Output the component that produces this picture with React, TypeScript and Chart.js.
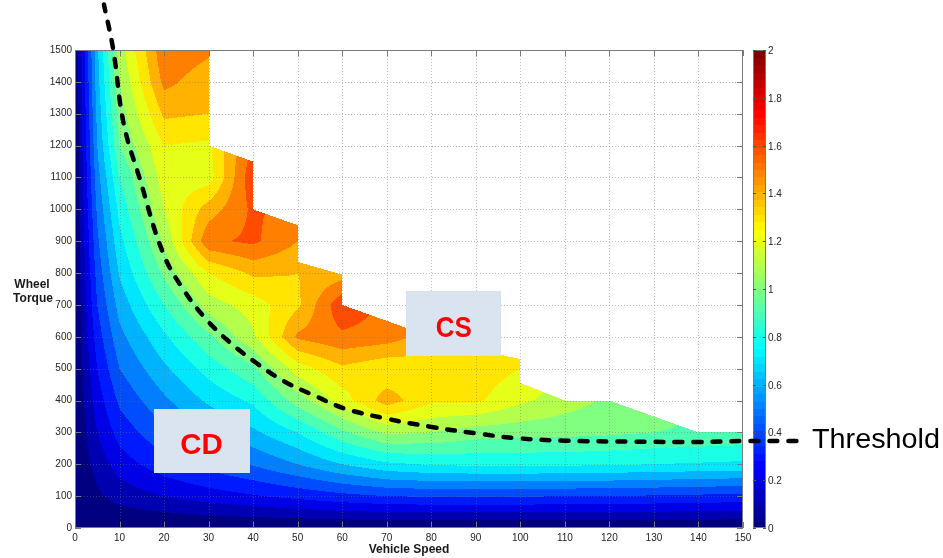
import React, { useEffect, useRef } from "react";
import { Chart, registerables } from "chart.js";

Chart.register(...registerables);

const FONT = '"Liberation Sans", Arial, Helvetica, sans-serif';

// ---- axes ----
const speedMin = 0;
const speedMax = 150;
const speedStep = 10;
const torqueMin = 0;
const torqueMax = 1500;
const torqueStep = 100;

// ---- colour scale ----
const colorMin = 0;
const colorMax = 2;
const levelStep = 0.1;
const colorTicks = [0, 0.2, 0.4, 0.6, 0.8, 1, 1.2, 1.4, 1.6, 1.8, 2];
const colorTickLabels = ["0", "0.2", "0.4", "0.6", "0.8", "1", "1.2", "1.4", "1.6", "1.8", "2"];

// ---- grid of the map: vehicle speed (columns) x wheel torque (rows) ----
const speeds = [0, 5, 10, 20, 30, 40, 50, 60, 70, 80, 90, 100, 110, 120, 130, 140, 150];
const torques = [0, 100, 200, 300, 400, 500, 600, 700, 800, 900, 1000, 1100, 1200, 1300, 1400, 1500];

const zT0 = [0, 0, 0, 0, 0, 0, 0, 0, 0, 0, 0, 0, 0, 0, 0, 0, 0];
const zT100 = [0, 0.08, 0.14, 0.2, 0.25, 0.29, 0.33, 0.37, 0.4, 0.41, 0.41, 0.41, 0.4, 0.4, 0.39, 0.38, 0.37];
const zT200 = [0, 0.14, 0.25, 0.36, 0.44, 0.51, 0.6, 0.7, 0.78, 0.81, 0.82, 0.82, 0.82, 0.81, 0.8, 0.79, 0.78];
const zT300 = [0, 0.2, 0.34, 0.48, 0.58, 0.68, 0.8, 0.98, 1.12, 1.1, 1.05, 1.04, 1.03, 1.02, 1.0, 0.99, 0.98];
const zT400 = [0, 0.25, 0.42, 0.58, 0.72, 0.82, 1.05, 1.25, 1.45, 1.32, 1.32, 1.22, 1.15, 1.08, 1.04, 1.0, 0.98];
const zT500 = [0, 0.3, 0.5, 0.68, 0.84, 0.98, 1.25, 1.38, 1.32, 1.35, 1.36, 1.3, 1.2, 1.1, 1.05, 1.0, 1.0];
const zT600 = [0, 0.35, 0.57, 0.78, 0.98, 1.18, 1.52, 1.58, 1.55, 1.45, 1.38, 1.3, 1.2, 1.1, 1.05, 1.0, 1.0];
const zT700 = [0, 0.4, 0.64, 0.9, 1.15, 1.25, 1.38, 1.68, 1.58, 1.45, 1.4, 1.35, 1.3, 1.2, 1.1, 1.05, 1.0];
const zT800 = [0, 0.44, 0.71, 1.02, 1.3, 1.42, 1.4, 1.45, 1.45, 1.4, 1.4, 1.35, 1.3, 1.2, 1.1, 1.05, 1.0];
const zT900 = [0, 0.48, 0.77, 1.12, 1.58, 1.62, 1.5, 1.45, 1.4, 1.4, 1.4, 1.35, 1.3, 1.2, 1.1, 1.05, 1.0];
const zT1000 = [0, 0.52, 0.83, 1.2, 1.45, 1.62, 1.55, 1.45, 1.4, 1.4, 1.4, 1.35, 1.3, 1.2, 1.1, 1.05, 1.0];
const zT1100 = [0, 0.56, 0.9, 1.25, 1.25, 1.68, 1.6, 1.5, 1.4, 1.4, 1.4, 1.35, 1.3, 1.2, 1.1, 1.05, 1.0];
const zT1200 = [0, 0.6, 1.0, 1.3, 1.28, 1.62, 1.55, 1.5, 1.4, 1.4, 1.4, 1.35, 1.3, 1.2, 1.1, 1.05, 1.0];
const zT1300 = [0, 0.63, 1.05, 1.42, 1.4, 1.5, 1.5, 1.45, 1.4, 1.4, 1.4, 1.35, 1.3, 1.2, 1.1, 1.05, 1.0];
const zT1400 = [0, 0.66, 1.1, 1.53, 1.44, 1.5, 1.5, 1.45, 1.4, 1.4, 1.4, 1.35, 1.3, 1.2, 1.1, 1.05, 1.0];
const zT1500 = [0, 0.68, 1.15, 1.58, 1.52, 1.5, 1.5, 1.45, 1.4, 1.4, 1.4, 1.35, 1.3, 1.2, 1.1, 1.05, 1.0];

const zGrid = [zT0, zT100, zT200, zT300, zT400, zT500, zT600, zT700, zT800, zT900, zT1000, zT1100, zT1200, zT1300, zT1400, zT1500];

// ---- upper edge of the operating region (beyond it the map is empty) ----
const edgeSpeed = [0, 30, 30, 40, 40, 50, 50, 60, 60, 70, 80, 90, 100, 100, 110, 120, 140, 150];
const edgeTorque = [1500, 1500, 1200, 1150, 1000, 950, 835, 795, 700, 650, 600, 560, 530, 455, 400, 400, 300, 300];

// ---- CD / CS threshold curve (listed from right to left) ----
const thresholdSpeed = [162, 150, 140, 125.4, 110, 99.2, 90, 79.7, 70, 60.3, 54.3, 47, 40.8, 35, 29.6, 24.5, 19.8, 14.6, 10.9, 8.6, 6.5];
const thresholdTorque = [273, 273, 270, 271, 274, 282, 297, 318, 343, 376, 412, 460, 517, 580, 653, 745, 862, 1093, 1271, 1500, 1643];

function jet(t: number): [number, number, number] {
  const c = (u: number) => Math.max(0, Math.min(1, u));
  const r = c(Math.min(4 * t - 1.5, -4 * t + 4.5));
  const g = c(Math.min(4 * t - 0.5, -4 * t + 3.5));
  const b = c(Math.min(4 * t + 0.5, -4 * t + 2.5));
  return [Math.round(r * 255), Math.round(g * 255), Math.round(b * 255)];
}

function sampleZ(v: number, T: number): number {
  let i = 0;
  while (i < speeds.length - 2 && v > speeds[i + 1]) i++;
  let j = 0;
  while (j < torques.length - 2 && T > torques[j + 1]) j++;
  const fx = Math.max(0, Math.min(1, (v - speeds[i]) / (speeds[i + 1] - speeds[i])));
  const fy = Math.max(0, Math.min(1, (T - torques[j]) / (torques[j + 1] - torques[j])));
  const a = zGrid[j][i];
  const b = zGrid[j][i + 1];
  const c = zGrid[j + 1][i];
  const d = zGrid[j + 1][i + 1];
  return a * (1 - fx) * (1 - fy) + b * fx * (1 - fy) + c * (1 - fx) * fy + d * fx * fy;
}

function insidePoly(v: number, T: number, px: number[], py: number[]): boolean {
  let inside = false;
  for (let i = 0, k = px.length - 1; i < px.length; k = i++) {
    const xi = px[i], yi = py[i], xk = px[k], yk = py[k];
    if (yi > T !== yk > T && v < ((xk - xi) * (T - yi)) / (yk - yi) + xi) inside = !inside;
  }
  return inside;
}

function fitText(ctx: CanvasRenderingContext2D, text: string, x: number, baseline: number, font: string, targetW: number, align: "center" | "left") {
  ctx.font = font;
  const w = ctx.measureText(text).width;
  const s = targetW / w;
  ctx.save();
  ctx.translate(x, baseline);
  ctx.scale(s, 1);
  ctx.textAlign = align;
  ctx.textBaseline = "alphabetic";
  ctx.fillText(text, 0, 0);
  ctx.restore();
}

const mapPlugin = {
  id: "contourMap",
  beforeDatasetsDraw(chart: any) {
    const { ctx, chartArea: a } = chart;
    const xs = chart.scales.x;
    const ys = chart.scales.y;
    const left = Math.round(a.left);
    const top = Math.round(a.top);
    const w = Math.round(a.right) - left;
    const h = Math.round(a.bottom) - top;

    const polyX = [speedMin, ...edgeSpeed, speedMax];
    const polyY = [torqueMin, ...edgeTorque, torqueMin];

    const img = ctx.createImageData(w, h);
    const span = colorMax - colorMin;
    for (let py = 0; py < h; py++) {
      const T = ys.getValueForPixel(top + py + 0.5);
      for (let px = 0; px < w; px++) {
        const v = xs.getValueForPixel(left + px + 0.5);
        let r = 255, g = 255, b = 255;
        if (insidePoly(v, T, polyX, polyY)) {
          const z = sampleZ(v, T);
          const lvl = Math.floor((z - colorMin) / levelStep + 1e-9) * levelStep;
          [r, g, b] = jet(Math.max(0, Math.min(1, lvl / span)));
        }
        const k = (py * w + px) * 4;
        img.data[k] = r;
        img.data[k + 1] = g;
        img.data[k + 2] = b;
        img.data[k + 3] = 255;
      }
    }
    ctx.putImageData(img, left, top);

    ctx.save();
    // dotted grid
    ctx.strokeStyle = "rgba(110,110,110,0.45)";
    ctx.lineWidth = 1;
    ctx.setLineDash([1, 2]);
    for (let v = speedMin + speedStep; v < speedMax; v += speedStep) {
      const X = Math.round(xs.getPixelForValue(v)) + 0.5;
      ctx.beginPath();
      ctx.moveTo(X, a.top);
      ctx.lineTo(X, a.bottom);
      ctx.stroke();
    }
    for (let t = torqueMin + torqueStep; t < torqueMax; t += torqueStep) {
      const Y = Math.round(ys.getPixelForValue(t)) + 0.5;
      ctx.beginPath();
      ctx.moveTo(a.left, Y);
      ctx.lineTo(a.right, Y);
      ctx.stroke();
    }
    ctx.setLineDash([]);

    // axes box with inward ticks
    ctx.strokeStyle = "#7a7a7a";
    ctx.strokeRect(left + 0.5, top + 0.5, w - 1, h - 1);
    const tl = 6;
    for (let v = speedMin; v <= speedMax; v += speedStep) {
      const X = Math.round(xs.getPixelForValue(v)) + 0.5;
      ctx.beginPath();
      ctx.moveTo(X, a.bottom);
      ctx.lineTo(X, a.bottom - tl);
      ctx.moveTo(X, a.top);
      ctx.lineTo(X, a.top + tl);
      ctx.stroke();
    }
    for (let t = torqueMin; t <= torqueMax; t += torqueStep) {
      const Y = Math.round(ys.getPixelForValue(t)) + 0.5;
      ctx.beginPath();
      ctx.moveTo(a.left, Y);
      ctx.lineTo(a.left + tl, Y);
      ctx.moveTo(a.right, Y);
      ctx.lineTo(a.right - tl, Y);
      ctx.stroke();
    }

    // colour bar
    const cbL = 753;
    const cbW = 13;
    const cbTop = a.top;
    const cbBot = a.bottom;
    const n = 64;
    for (let k = 0; k < n; k++) {
      const [r, g, b] = jet(k / (n - 1));
      const y1 = cbBot - ((k + 1) * (cbBot - cbTop)) / n;
      const y0 = cbBot - (k * (cbBot - cbTop)) / n;
      ctx.fillStyle = `rgb(${r},${g},${b})`;
      ctx.fillRect(cbL, Math.floor(y1), cbW, Math.ceil(y0) - Math.floor(y1));
    }
    ctx.strokeStyle = "#7a7a7a";
    ctx.strokeRect(cbL + 0.5, cbTop + 0.5, cbW - 1, cbBot - cbTop - 1);
    ctx.fillStyle = "#262626";
    ctx.font = `10px ${FONT}`;
    ctx.textAlign = "left";
    ctx.textBaseline = "middle";
    colorTicks.forEach((val, idx) => {
      const Y = Math.round(cbBot - ((val - colorMin) / (colorMax - colorMin)) * (cbBot - cbTop)) + 0.5;
      ctx.strokeStyle = "#555";
      ctx.beginPath();
      ctx.moveTo(cbL, Y);
      ctx.lineTo(cbL + 3, Y);
      ctx.moveTo(cbL + cbW, Y);
      ctx.lineTo(cbL + cbW - 3, Y);
      ctx.stroke();
      ctx.fillText(colorTickLabels[idx], cbL + cbW + 2, Y + 1);
    });

    // y axis title (horizontal, two lines)
    ctx.fillStyle = "#1a1a1a";
    ctx.font = `bold 12px ${FONT}`;
    ctx.textAlign = "center";
    ctx.textBaseline = "alphabetic";
    ctx.fillText("Wheel", 32, 288);
    ctx.fillText("Torque", 33, 301.5);
    ctx.restore();
  },
  afterDatasetsDraw(chart: any) {
    const { ctx } = chart;
    ctx.save();
    // CS box
    ctx.fillStyle = "#dae3f0";
    ctx.fillRect(406, 291, 95, 65);
    ctx.fillStyle = "#ff0000";
    fitText(ctx, "CS", 453.8, 336.7, `bold 30px ${FONT}`, 36, "center");
    // CD box
    ctx.fillStyle = "#dae3f0";
    ctx.fillRect(154, 409, 96, 64);
    ctx.fillStyle = "#ff0000";
    fitText(ctx, "CD", 201.5, 454, `bold 30px ${FONT}`, 42.5, "center");
    // Threshold label
    ctx.fillStyle = "#000000";
    fitText(ctx, "Threshold", 812, 448.3, `28.5px ${FONT}`, 128, "left");
    ctx.restore();
  },
};

export default function App() {
  const canvasRef = useRef<HTMLCanvasElement | null>(null);

  useEffect(() => {
    const canvas = canvasRef.current;
    if (!canvas) return;
    const points = thresholdSpeed.map((s, i) => ({ x: s, y: thresholdTorque[i] }));
    const chart = new Chart(canvas, {
      type: "scatter",
      data: {
        datasets: [
          {
            label: "Threshold",
            data: points,
            showLine: true,
            borderColor: "#000000",
            borderWidth: 4.5,
            borderDash: [8, 11],
            borderCapStyle: "round",
            borderJoinStyle: "round",
            tension: 0.4,
            pointRadius: 0,
            clip: false,
          } as any,
        ],
      },
      options: {
        animation: false,
        responsive: false,
        maintainAspectRatio: false,
        layout: { padding: { left: 0, right: 200, top: 50, bottom: 0 } },
        plugins: {
          legend: { display: false },
          tooltip: { enabled: false },
        },
        scales: {
          x: {
            type: "linear",
            min: speedMin,
            max: speedMax,
            grid: { display: false, drawTicks: false },
            border: { display: false },
            ticks: {
              stepSize: speedStep,
              autoSkip: false,
              maxRotation: 0,
              padding: 4,
              color: "#262626",
              font: { family: FONT, size: 10 },
              callback: (v: any) => String(v),
            },
            title: {
              display: true,
              text: "Vehicle Speed",
              color: "#1a1a1a",
              font: { family: FONT, size: 12, weight: "bold" },
              padding: { top: 0, bottom: 1 },
            },
            afterFit: (s: any) => {
              s.height = 30;
            },
          },
          y: {
            type: "linear",
            min: torqueMin,
            max: torqueMax,
            grid: { display: false, drawTicks: false },
            border: { display: false },
            ticks: {
              stepSize: torqueStep,
              autoSkip: false,
              padding: 3,
              color: "#262626",
              font: { family: FONT, size: 10 },
              callback: (v: any) => String(v),
            },
            afterFit: (s: any) => {
              s.width = 75;
            },
          },
        },
      } as any,
      plugins: [mapPlugin as any],
    });
    return () => chart.destroy();
  }, []);

  return (
    <div style={{ position: "fixed", left: 0, top: 0, width: 943, height: 558, background: "#ffffff" }}>
      <canvas ref={canvasRef} width={943} height={558} style={{ display: "block", width: 943, height: 558 }} />
    </div>
  );
}
